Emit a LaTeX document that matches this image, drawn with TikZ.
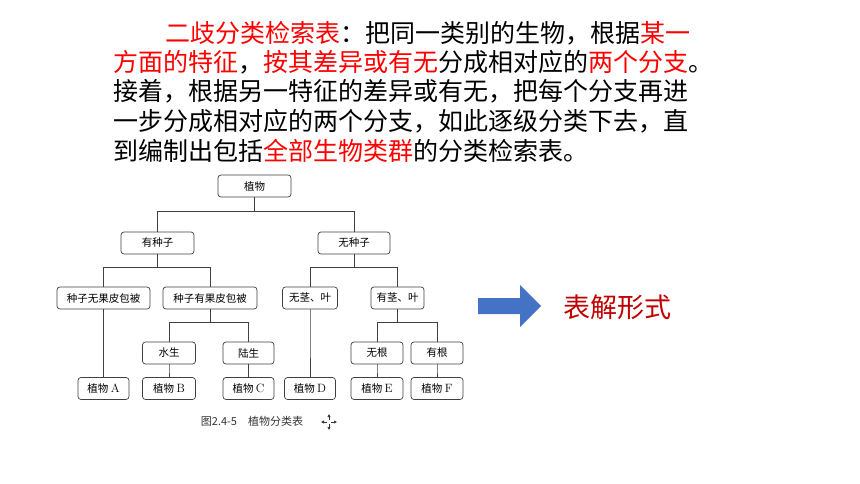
\documentclass[tikz,border=0pt]{standalone}
\usepackage{fontspec}
\usepackage{xcolor}
\newfontfamily\cjk{Noto Sans CJK SC}
\definecolor{keyred}{RGB}{255,0,0}
\definecolor{darkred}{RGB}{192,0,0}
\definecolor{arrowblue}{RGB}{68,114,196}
\usetikzlibrary{arrows.meta,calc}

\newcommand{\hl}[1]{\textcolor{keyred}{#1}}
\newcommand{\lt}[1]{{\rmfamily\fontsize{12}{12}\selectfont #1}}

\begin{document}
\begin{tikzpicture}[x=1pt,y=-1pt,
  line/.style={anchor=west,inner sep=0pt,font=\cjk\fontsize{25}{30}\selectfont},
  box/.style={draw=black!75,line width=0.7pt,rounded corners=3pt,fill=white,minimum height=22pt,minimum width=#1,inner sep=0pt,font=\cjk\fontsize{10.5}{12}\selectfont},
  conn/.style={draw=black!75,line width=0.7pt}]
\useasboundingbox (0,0) rectangle (860,484);
\node[line] (t1) at (165,33) {\hl{二歧分类检索表}：把同一类别的生物，根据\hl{某一}};
\node[line] (t2) at (113,62) {\hl{方面的特征}，\hl{按其差异或有无}分成相对应的\hl{两个分支}。};
\node[line] (t3) at (113,91) {接着，根据另一特征的差异或有无，把每个分支再进};
\node[line] (t4) at (113,121) {一步分成相对应的两个分支，如此逐级分类下去，直};
\node[line] (t5) at (113,151) {到编制出包括\hl{全部生物类群}的分类检索表。};

\node[box=73pt] (r) at (254.5,186) {植物};
\node[box=73pt] (s1) at (157.5,243) {有种子};
\node[box=72pt] (s2) at (354,243) {无种子};
\node[box=93pt] (a1) at (103.5,298) {种子无果皮包被};
\node[box=94pt] (a2) at (210,298) {种子有果皮包被};
\node[box=55pt] (a3) at (310,298) {无茎、叶};
\node[box=53pt] (a4) at (397.5,298) {有茎、叶};
\node[box=53pt] (b1) at (169,353) {水生};
\node[box=51pt] (b2) at (248.5,353) {陆生};
\node[box=52pt] (b3) at (377,353) {无根};
\node[box=52pt] (b4) at (437,353) {有根};
\node[box=51pt] (pA) at (103.5,388.5) {植物 \lt{A}};
\node[box=53pt] (pB) at (169,388.5) {植物 \lt{B}};
\node[box=51pt] (pC) at (248.5,388.5) {植物 \lt{C}};
\node[box=51pt] (pD) at (310,388.5) {植物 \lt{D}};
\node[box=52pt] (pE) at (377,388.5) {植物 \lt{E}};
\node[box=52pt] (pF) at (437,388.5) {植物 \lt{F}};

\foreach \p/\c/\yy in {r/s1/211,r/s2/211,s1/a1/267,s1/a2/267,s2/a3/267,s2/a4/267,
  a1/pA/340,a2/b1/322,a2/b2/322,a3/pD/340,a4/b3/322,a4/b4/322,
  b1/pB/370,b2/pC/370,b3/pE/370,b4/pF/370}
  \draw[conn] (\p.south) -- (\p.south |- 0,\yy) -| (\c.north);

\node[font=\cjk\fontsize{11}{13}\selectfont,text=black!80] (cap) at (252,421) {图2.4-5\quad 植物分类表};
\coordinate (mv) at (329,422);
\foreach \d in {0,90,180,270}
  \draw[black!80,line width=0.8pt,-{Latex[length=3pt,width=3.5pt]}] (mv) ++(\d:2) -- ++(\d:6);

\fill[arrowblue] (478,298) -- (520,298) -- (520,285) -- (541,306) -- (520,327) -- (520,314) -- (478,314) -- cycle;
\node[font=\cjk\fontsize{27}{32}\selectfont,text=darkred] (form) at (617,307) {表解形式};
\end{tikzpicture}
\end{document}
